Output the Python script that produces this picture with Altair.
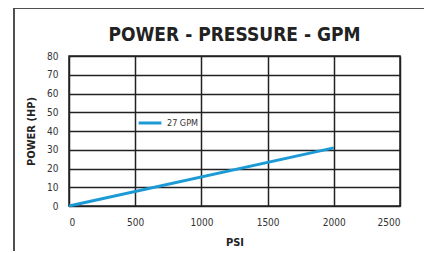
import altair as alt
import pandas as pd

psi = [0, 2000]
hp = [0, 31]
series = ["27 GPM", "27 GPM"]
x_ticks = [0, 500, 1000, 1500, 2000, 2500]
y_ticks = [0, 10, 20, 30, 40, 50, 60, 70, 80]

df = pd.DataFrame({"PSI": psi, "HP": hp, "GPM": series})

FONT = "Liberation Sans Narrow, DejaVu Sans Condensed, Roboto, sans-serif"
BLUE = "#1b9ad6"

x_enc = alt.X(
    "PSI:Q",
    scale=alt.Scale(domain=[0, 2500], nice=False),
    axis=alt.Axis(values=x_ticks, title="PSI", grid=True, ticks=False, domain=False,
                  labelPadding=11, titlePadding=9, format="d"),
)
y_enc = alt.Y(
    "HP:Q",
    scale=alt.Scale(domain=[0, 80], nice=False),
    axis=alt.Axis(values=y_ticks, title="POWER (HP)", grid=True, ticks=False, domain=False,
                  labelPadding=11, titlePadding=10),
)

line = alt.Chart(df).mark_line(strokeWidth=3).encode(
    x=x_enc,
    y=y_enc,
    color=alt.Color(
        "GPM:N",
        scale=alt.Scale(range=[BLUE]),
        legend=alt.Legend(orient="none", legendX=68, legendY=54, title=None,
                          symbolType="stroke", symbolStrokeWidth=3, symbolSize=520,
                          labelFont=FONT, labelFontSize=9, labelColor="#333"),
    ),
)

frame_v = alt.Chart(df).mark_rule(color="#444", strokeWidth=1.5).encode(
    x=alt.value(-55), y=alt.value(-48), y2=alt.value(400)
)
frame_h = alt.Chart(df).mark_rule(color="#444", strokeWidth=1.5).encode(
    x=alt.value(-55), x2=alt.value(500), y=alt.value(-48)
)

chart = alt.layer(frame_v, frame_h, line).properties(
    width=331,
    height=150,
    autosize=alt.AutoSizeParams(type="none"),
    padding={"left": 61, "top": 48, "right": 24, "bottom": 45},
    title=alt.TitleParams("POWER - PRESSURE - GPM", font=FONT, fontSize=19, fontWeight="bold",
                          color="#222", anchor="middle", frame="group", offset=0, dy=53,
                          baseline="alphabetic"),
).configure_view(
    stroke="#222", strokeWidth=1.5
).configure_axis(
    gridColor="#222", gridWidth=1.5, gridOpacity=1,
    labelFont=FONT, labelFontSize=10, labelColor="#333",
    titleFont=FONT, titleFontSize=11, titleFontWeight="bold", titleColor="#222",
)

chart.save("out.html", embed_options={"renderer": "svg", "actions": False})
